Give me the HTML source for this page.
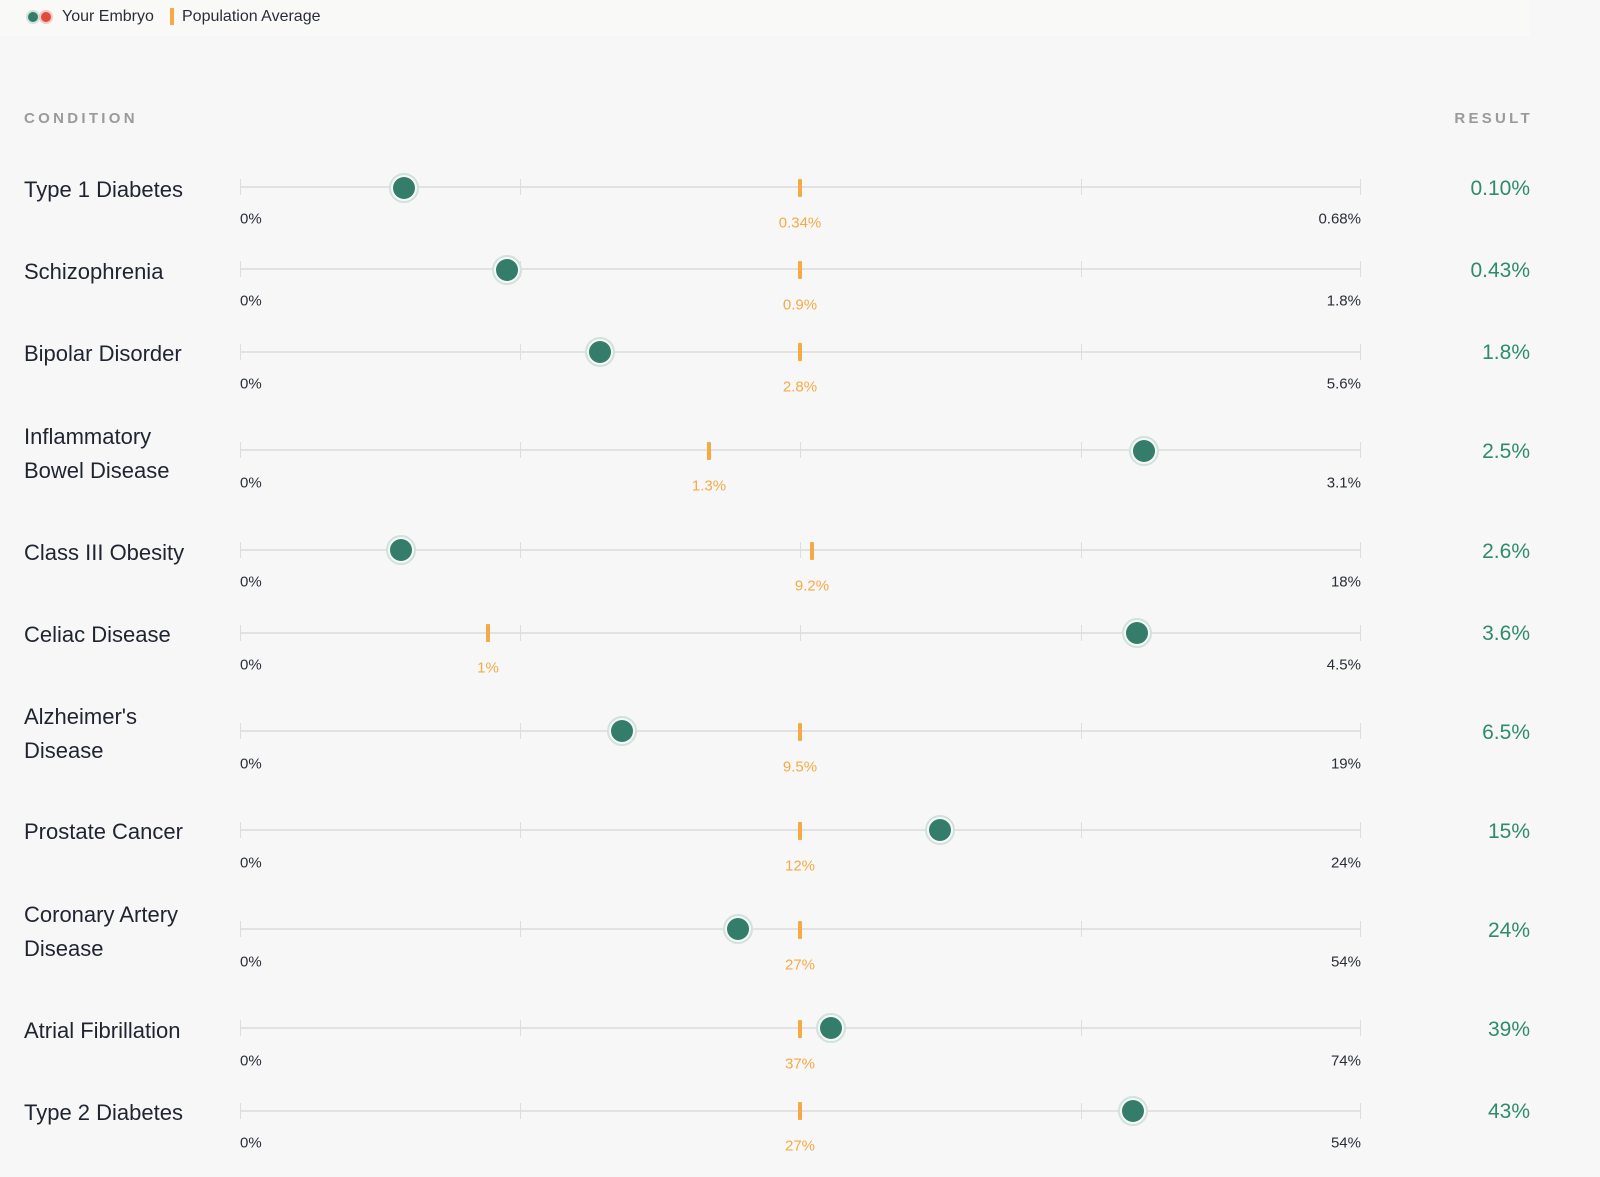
<!DOCTYPE html>
<html><head><meta charset="utf-8"><style>
*{margin:0;padding:0;box-sizing:border-box}
body{width:1600px;height:1177px;background:#f7f7f7;font-family:"Liberation Sans",sans-serif;position:relative;overflow:hidden;color:#1f2430}
.legbar{position:absolute;left:0;top:0;width:1530px;height:36px;background:#f9f9f8}
.abs{position:absolute;white-space:nowrap}
.hdr{font-size:15px;font-weight:bold;letter-spacing:3.3px;color:#9a9a9a}
.lbl{position:absolute;left:24px;font-size:22px;line-height:34px;color:#1f2430;margin-top:2px}
.res{position:absolute;right:70px;font-size:21px;color:#2e8b6e;transform:translateY(-50%);margin-top:1px}
.line{position:absolute;left:240px;width:1121px;height:2px;background:#e2e2e2}
.tick{position:absolute;width:1px;height:16px;background:#dedede}
.mn,.mx{position:absolute;font-size:15px;color:#2a2e38;transform:translateY(-50%);margin-top:1px}
.mn{left:240px}
.mx{right:239px}
.avg{position:absolute;font-size:15px;color:#f5aa45;transform:translate(-50%,-50%);margin-top:1px}
.mk{position:absolute;width:4px;height:18px;background:#f5aa45;border-radius:1px;transform:translate(-50%,-50%)}
.dot{position:absolute;width:30px;height:30px;border-radius:50%;background:#f7f7f7;border:2px solid #cfe2db;transform:translate(-50%,-50%)}
.dot:after{content:"";position:absolute;left:2px;top:2px;width:22px;height:22px;border-radius:50%;background:#347d6b}
</style></head><body>
<div class="legbar"></div>
<div class="abs" style="left:26px;top:10px;width:14px;height:14px;border-radius:50%;background:#347d6b;border:2px solid #cfe2db"></div>
<div class="abs" style="left:39px;top:10px;width:14px;height:14px;border-radius:50%;background:#e04b3e;border:2px solid #f2c9c4"></div>
<div class="abs" style="left:62px;top:8px;font-size:16px;color:#2a2e38">Your Embryo</div>
<div class="abs" style="left:170px;top:8px;width:4px;height:17px;background:#f5aa45"></div>
<div class="abs" style="left:182px;top:8px;font-size:16px;color:#2a2e38">Population Average</div>
<div class="abs hdr" style="left:24px;top:110px">CONDITION</div>
<div class="abs hdr" style="right:67px;top:110px">RESULT</div>

<div class="lbl" style="top:171px">Type 1 Diabetes</div>
<div class="line" style="top:186px"></div>
<div class="tick" style="left:240px;top:179px"></div><div class="tick" style="left:520px;top:179px"></div><div class="tick" style="left:800px;top:179px"></div><div class="tick" style="left:1081px;top:179px"></div><div class="tick" style="left:1360px;top:179px"></div>
<div class="mn" style="top:218px">0%</div><div class="mx" style="top:218px">0.68%</div>
<div class="mk" style="left:800px;top:188px"></div><div class="avg" style="left:800px;top:222px">0.34%</div>
<div class="dot" style="left:404px;top:188px"></div>
<div class="res" style="top:188px">0.10%</div>

<div class="lbl" style="top:253px">Schizophrenia</div>
<div class="line" style="top:268px"></div>
<div class="tick" style="left:240px;top:261px"></div><div class="tick" style="left:520px;top:261px"></div><div class="tick" style="left:800px;top:261px"></div><div class="tick" style="left:1081px;top:261px"></div><div class="tick" style="left:1360px;top:261px"></div>
<div class="mn" style="top:300px">0%</div><div class="mx" style="top:300px">1.8%</div>
<div class="mk" style="left:800px;top:270px"></div><div class="avg" style="left:800px;top:304px">0.9%</div>
<div class="dot" style="left:507px;top:270px"></div>
<div class="res" style="top:270px">0.43%</div>

<div class="lbl" style="top:335px">Bipolar Disorder</div>
<div class="line" style="top:351px"></div>
<div class="tick" style="left:240px;top:344px"></div><div class="tick" style="left:520px;top:344px"></div><div class="tick" style="left:800px;top:344px"></div><div class="tick" style="left:1081px;top:344px"></div><div class="tick" style="left:1360px;top:344px"></div>
<div class="mn" style="top:383px">0%</div><div class="mx" style="top:383px">5.6%</div>
<div class="mk" style="left:800px;top:352px"></div><div class="avg" style="left:800px;top:386px">2.8%</div>
<div class="dot" style="left:600px;top:352px"></div>
<div class="res" style="top:352px">1.8%</div>

<div class="lbl" style="top:418px">Inflammatory<br>Bowel Disease</div>
<div class="line" style="top:449px"></div>
<div class="tick" style="left:240px;top:442px"></div><div class="tick" style="left:520px;top:442px"></div><div class="tick" style="left:800px;top:442px"></div><div class="tick" style="left:1081px;top:442px"></div><div class="tick" style="left:1360px;top:442px"></div>
<div class="mn" style="top:482px">0%</div><div class="mx" style="top:482px">3.1%</div>
<div class="mk" style="left:709px;top:451px"></div><div class="avg" style="left:709px;top:485px">1.3%</div>
<div class="dot" style="left:1144px;top:451px"></div>
<div class="res" style="top:451px">2.5%</div>

<div class="lbl" style="top:534px">Class III Obesity</div>
<div class="line" style="top:549px"></div>
<div class="tick" style="left:240px;top:542px"></div><div class="tick" style="left:520px;top:542px"></div><div class="tick" style="left:800px;top:542px"></div><div class="tick" style="left:1081px;top:542px"></div><div class="tick" style="left:1360px;top:542px"></div>
<div class="mn" style="top:581px">0%</div><div class="mx" style="top:581px">18%</div>
<div class="mk" style="left:812px;top:551px"></div><div class="avg" style="left:812px;top:585px">9.2%</div>
<div class="dot" style="left:401px;top:550px"></div>
<div class="res" style="top:551px">2.6%</div>

<div class="lbl" style="top:616px">Celiac Disease</div>
<div class="line" style="top:632px"></div>
<div class="tick" style="left:240px;top:625px"></div><div class="tick" style="left:520px;top:625px"></div><div class="tick" style="left:800px;top:625px"></div><div class="tick" style="left:1081px;top:625px"></div><div class="tick" style="left:1360px;top:625px"></div>
<div class="mn" style="top:664px">0%</div><div class="mx" style="top:664px">4.5%</div>
<div class="mk" style="left:488px;top:633px"></div><div class="avg" style="left:488px;top:667px">1%</div>
<div class="dot" style="left:1137px;top:633px"></div>
<div class="res" style="top:633px">3.6%</div>

<div class="lbl" style="top:698px">Alzheimer's<br>Disease</div>
<div class="line" style="top:730px"></div>
<div class="tick" style="left:240px;top:723px"></div><div class="tick" style="left:520px;top:723px"></div><div class="tick" style="left:800px;top:723px"></div><div class="tick" style="left:1081px;top:723px"></div><div class="tick" style="left:1360px;top:723px"></div>
<div class="mn" style="top:763px">0%</div><div class="mx" style="top:763px">19%</div>
<div class="mk" style="left:800px;top:732px"></div><div class="avg" style="left:800px;top:766px">9.5%</div>
<div class="dot" style="left:622px;top:731px"></div>
<div class="res" style="top:732px">6.5%</div>

<div class="lbl" style="top:813px">Prostate Cancer</div>
<div class="line" style="top:829px"></div>
<div class="tick" style="left:240px;top:822px"></div><div class="tick" style="left:520px;top:822px"></div><div class="tick" style="left:800px;top:822px"></div><div class="tick" style="left:1081px;top:822px"></div><div class="tick" style="left:1360px;top:822px"></div>
<div class="mn" style="top:862px">0%</div><div class="mx" style="top:862px">24%</div>
<div class="mk" style="left:800px;top:831px"></div><div class="avg" style="left:800px;top:865px">12%</div>
<div class="dot" style="left:940px;top:830px"></div>
<div class="res" style="top:831px">15%</div>

<div class="lbl" style="top:896px">Coronary Artery<br>Disease</div>
<div class="line" style="top:928px"></div>
<div class="tick" style="left:240px;top:921px"></div><div class="tick" style="left:520px;top:921px"></div><div class="tick" style="left:800px;top:921px"></div><div class="tick" style="left:1081px;top:921px"></div><div class="tick" style="left:1360px;top:921px"></div>
<div class="mn" style="top:961px">0%</div><div class="mx" style="top:961px">54%</div>
<div class="mk" style="left:800px;top:930px"></div><div class="avg" style="left:800px;top:964px">27%</div>
<div class="dot" style="left:738px;top:929px"></div>
<div class="res" style="top:930px">24%</div>

<div class="lbl" style="top:1012px">Atrial Fibrillation</div>
<div class="line" style="top:1027px"></div>
<div class="tick" style="left:240px;top:1020px"></div><div class="tick" style="left:520px;top:1020px"></div><div class="tick" style="left:800px;top:1020px"></div><div class="tick" style="left:1081px;top:1020px"></div><div class="tick" style="left:1360px;top:1020px"></div>
<div class="mn" style="top:1060px">0%</div><div class="mx" style="top:1060px">74%</div>
<div class="mk" style="left:800px;top:1029px"></div><div class="avg" style="left:800px;top:1063px">37%</div>
<div class="dot" style="left:831px;top:1028px"></div>
<div class="res" style="top:1029px">39%</div>

<div class="lbl" style="top:1094px">Type 2 Diabetes</div>
<div class="line" style="top:1110px"></div>
<div class="tick" style="left:240px;top:1103px"></div><div class="tick" style="left:520px;top:1103px"></div><div class="tick" style="left:800px;top:1103px"></div><div class="tick" style="left:1081px;top:1103px"></div><div class="tick" style="left:1360px;top:1103px"></div>
<div class="mn" style="top:1142px">0%</div><div class="mx" style="top:1142px">54%</div>
<div class="mk" style="left:800px;top:1111px"></div><div class="avg" style="left:800px;top:1145px">27%</div>
<div class="dot" style="left:1133px;top:1111px"></div>
<div class="res" style="top:1111px">43%</div>
</body></html>
